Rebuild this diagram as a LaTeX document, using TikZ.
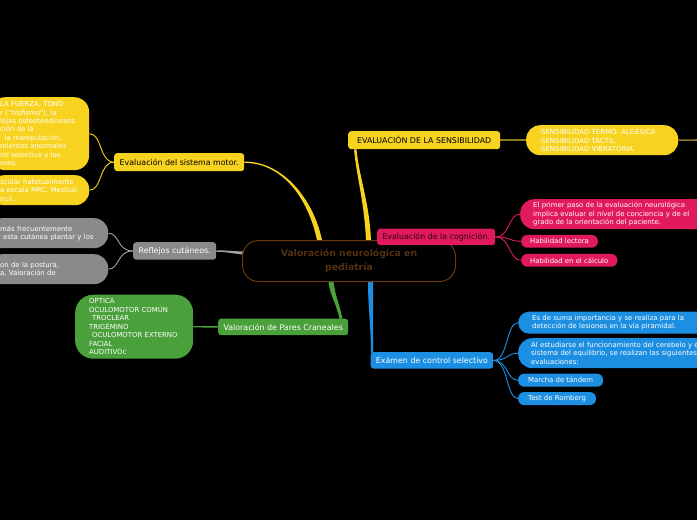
\documentclass[tikz,border=0pt]{standalone}
\usepackage{fontspec}
\setmainfont{DejaVu Sans}
\usetikzlibrary{calc,backgrounds}
\definecolor{ylw}{HTML}{F7D31F}
\definecolor{olv}{HTML}{8B7A1E}
\definecolor{pnk}{HTML}{E1195D}
\definecolor{blu}{HTML}{1C8FE2}
\definecolor{grn}{HTML}{4AA03A}
\definecolor{gry}{HTML}{8A8A8A}
\definecolor{gryl}{HTML}{A3A3A3}
\definecolor{brn}{HTML}{6B3A0C}
\definecolor{brnt}{HTML}{553010}
\definecolor{cogt}{HTML}{2A0610}
\newcommand{\nohyph}{\hyphenpenalty=10000 \exhyphenpenalty=10000 \relax}
\begin{document}
\begin{tikzpicture}[x=1pt,y=-1pt,
  lbl/.style={anchor=north west, rounded corners=3pt, inner sep=0pt, font=\fontsize{7.9}{9.5}\selectfont},
  leaf/.style={anchor=north west, align=left, inner ysep=0pt, font=\fontsize{6.9}{8.45}\selectfont, text=white},
  sleaf/.style={anchor=west, inner ysep=0pt, inner xsep=9pt, rounded corners=6pt, font=\fontsize{6.9}{8.45}\selectfont, text=white},
  br/.style={line width=0.9pt}
]
\useasboundingbox (0,0) rectangle (697,520);

% central
\node[anchor=north west, draw=brn, line width=1pt, fill=black, rounded corners=16pt,
      minimum width=213pt, minimum height=41pt, inner sep=0pt, align=center,
      text=brnt, font=\fontsize{9.3}{14}\selectfont\bfseries] (c) at (242,240)
      {Valoración neurológica en\\pediatría};

% main labels
\node[lbl, fill=ylw, text=black, minimum width=130pt, minimum height=18pt] (mot) at (114,153) {Evaluación del sistema motor.};
\node[lbl, fill=ylw, text=black, minimum width=152pt, minimum height=18pt] (sens) at (348,131) {EVALUACIÓN DE LA SENSIBILIDAD};
\node[lbl, fill=pnk, text=cogt, minimum width=118pt, minimum height=16.5pt] (cog) at (377,228.5) {Evaluación de la cognición.};
\node[lbl, fill=blu, text=white, minimum width=122.5pt, minimum height=16.5pt] (exa) at (370.5,352) {Exámen de control selectivo};
\node[lbl, fill=grn, text=white, minimum width=130pt, minimum height=16.5pt] (par) at (218,318.5) {Valoración de Pares Craneales};
\node[lbl, fill=gry, text=white, minimum width=83pt, minimum height=17.5pt] (ref) at (133,242) {Reflejos cutáneos.};

% motor leaves
\node[leaf, fill=ylw, rounded corners=15pt, inner xsep=10pt, text width=79pt, minimum height=73pt] (mot1) at (-10,97)
  {\nohyph LA FUERZA, TONO\\r (“trofismo”), la\\lejos osteotendinosos\\ción de la\\\hspace*{4.5pt}la manipulación,\\mientos anormales\\rol selectivo y los\\ores.};
\node[leaf, fill=ylw, rounded corners=14pt, inner xsep=10pt, text width=79pt, minimum height=30pt] (mot2) at (-10,175)
  {\nohyph scular habitualmente\\a escala MRC, Medical\\ncil.};

% reflex leaves
\node[leaf, fill=gry, rounded corners=14pt, inner xsep=11pt, text width=98pt, minimum height=30pt] (ref1) at (-12,218)
  {\nohyph\hspace*{1pt}más frecuentemente\\\hspace*{4pt}esta cutánea plantar y los};
\node[leaf, fill=gry, rounded corners=14pt, inner xsep=11pt, text width=98pt, minimum height=30pt] (ref2) at (-12,254)
  {\nohyph\hspace*{1pt}on de la postura,\\\hspace*{1pt}a, Valoración de};

% cranial nerves leaf
\node[leaf, fill=grn, rounded corners=18pt, inner xsep=14pt, text width=90pt, minimum height=64pt] (par1) at (75,294.5)
  {OPTICA\\OCULOMOTOR COMÚN\\\hspace*{3pt}TROCLEAR\\TRIGÉMINO\\\hspace*{3pt}OCULOMOTOR EXTERNO\\FACIAL\\AUDITIVOc};

% sensitivity leaf
\node[leaf, fill=ylw, rounded corners=14pt, inner xsep=12.5pt, text width=127pt, minimum height=30pt] (sens1) at (526,125)
  {-SENSIBILIDAD TERMO- ALGÉSICA.\\-SENSIBILIDAD TÁCTIL.\\-SENSIBILIDAD VIBRATORIA.};
\coordinate (edgeR) at (700,140);

% cognition leaves
\node[leaf, fill=pnk, rounded corners=14pt, inner xsep=13pt, text width=190pt, minimum height=30pt] (cog1) at (520,199)
  {El primer paso de la evaluación neurológica\\implica evaluar el nivel de conciencia y de el\\grado de la orientación del paciente.};
\node[sleaf, fill=pnk, minimum height=12.7pt] (cog2) at (521,241.3) {Habilidad lectora};
\node[sleaf, fill=pnk, minimum height=12.7pt] (cog3) at (521,260.3) {Habilidad en el cálculo};

% exam leaves
\node[leaf, fill=blu, rounded corners=11pt, inner xsep=14pt, text width=190pt, minimum height=22pt] (exa1) at (518,311.5)
  {Es de suma importancia y se realiza para la\\detección de lesiones en la vía piramidal.};
\node[leaf, fill=blu, rounded corners=14pt, inner xsep=13pt, text width=200pt, minimum height=30pt] (exa2) at (518,338)
  {Al estudiarse el funcionamiento del cerebelo y el\\sistema del equilibrio, se realizan las siguientes\\evaluaciones:};
\node[sleaf, fill=blu, inner xsep=10pt, minimum height=13pt] (exa3) at (518,380.2) {Marcha de tándem};
\node[sleaf, fill=blu, inner xsep=10pt, minimum height=13pt] (exa4) at (518,398.6) {Test de Romberg};

\begin{pgfonlayer}{background}
\fill[black] (0,0) rectangle (697,520);
% tapered main connectors
\fill[ylw] ($(mot.east)+(0,-0.7)$) .. controls +(38,0) and +(-9,-42) .. ($(c.north)+(-27,0)$)
  -- ($(c.north)+(-32,0)$) .. controls +(-9,-42) and +(38,0) .. ($(mot.east)+(0,0.7)$) -- cycle;
\fill[ylw] ($(sens.south west)+(6,0)$) .. controls +(3,30) and +(-2,-40) .. ($(c.north)+(17,0)$)
  -- ($(c.north)+(22,0)$) .. controls +(-2,-40) and +(3,30) .. ($(sens.south west)+(8.5,0)$) -- cycle;
\fill[grn] ($(c.south)+(-20.5,0)$) .. controls +(2,15) and +(-3,-15) .. ($(par.north east)+(-9,0)$)
  -- ($(par.north east)+(-6,0)$) .. controls +(-3,-15) and +(2,15) .. ($(c.south)+(-15.5,0)$) -- cycle;
\fill[blu] ($(c.south)+(19,0)$) .. controls +(0,25) and +(0,-25) .. ($(exa.north west)+(0.5,1)$)
  -- ($(exa.north west)+(2.5,1)$) .. controls +(0,-25) and +(0,25) .. ($(c.south)+(24,0)$) -- cycle;
\fill[gryl] ($(ref.east)+(0,-0.6)$) .. controls +(12,0) and +(-10,0) .. ($(c.west)+(4,-9.5)$)
  -- ($(c.west)+(4,-6.5)$) .. controls +(-10,0) and +(12,0) .. ($(ref.east)+(0,0.8)$) -- cycle;
% straight links
\draw[olv, line width=1.6pt] (sens.east) -- (sens1.west);
\draw[olv, line width=1.6pt] (sens1.east) -- (edgeR);
\draw[grn, line width=1.4pt] (par.west) -- (par1.east);
% branches
\draw[ylw, br] (mot.west) .. controls +(-15,0) and +(13,0) .. (mot1.east);
\draw[ylw, br] (mot.west) .. controls +(-15,0) and +(13,0) .. (mot2.east);
\draw[gryl, br] (ref.west) .. controls +(-16,0) and +(11,0) .. (ref1.east);
\draw[gryl, br] (ref.west) .. controls +(-16,0) and +(11,0) .. (ref2.east);
\draw[pnk, br] (cog.east) .. controls +(15,0) and +(-12,0) .. (cog1.west);
\draw[pnk, br] (cog.east) .. controls +(15,0) and +(-12,0) .. (cog2.west);
\draw[pnk, br] (cog.east) .. controls +(15,0) and +(-12,0) .. (cog3.west);
\draw[blu, br] (exa.east) .. controls +(15,0) and +(-12,0) .. (exa1.west);
\draw[blu, br] (exa.east) .. controls +(15,0) and +(-12,0) .. (exa2.west);
\draw[blu, br] (exa.east) .. controls +(15,0) and +(-12,0) .. (exa3.west);
\draw[blu, br] (exa.east) .. controls +(15,0) and +(-12,0) .. (exa4.west);
\end{pgfonlayer}
\end{tikzpicture}
\end{document}
